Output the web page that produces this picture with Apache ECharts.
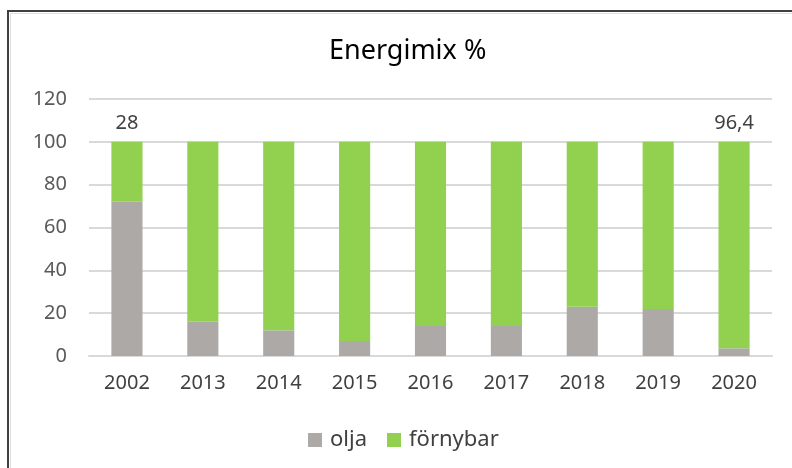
<!DOCTYPE html>
<html>
<head>
<meta charset="utf-8">
<script src="https://cdn.jsdelivr.net/npm/echarts@6/dist/echarts.min.js"></script>
<style>
  html, body { margin: 0; padding: 0; background: #fff; }
  #main { width: 792px; height: 468px; }
</style>
</head>
<body>
<div id="main"></div>
<script>
const years = ['2002', '2013', '2014', '2015', '2016', '2017', '2018', '2019', '2020'];
const olja = [72, 16, 12, 7, 14, 14, 23, 22, 3.6];
const fornybar = [28, 84, 88, 93, 86, 86, 77, 78, 96.4];
// only first and last bar carry a label
const fornybarLabels = ['28', '', '', '', '', '', '', '', '96,4'];

const font = 'Noto Sans';
const chart = echarts.init(document.getElementById('main'));

chart.setOption({
  animation: false,
  backgroundColor: '#fff',
  textStyle: { fontFamily: font },
  title: {
    text: 'Energimix %',
    left: 324,
    top: 33,
    textStyle: { fontFamily: font, fontSize: 27, fontWeight: 'normal', color: '#000' }
  },
  legend: {
    top: 424,
    left: 303,
    itemWidth: 14,
    itemHeight: 14,
    itemGap: 20,
    icon: 'rect',
    textStyle: { fontFamily: font, fontSize: 22, color: '#404040', padding: [0, 0, 0, 3] },
    data: ['olja', 'förnybar']
  },
  graphic: [{
    type: 'rect',
    shape: { x: 8, y: 11, width: 820, height: 520 },
    style: { fill: 'none', stroke: '#404040', lineWidth: 2 }
  }, {
    type: 'rect',
    shape: { x: 10.5, y: 13.5, width: 820, height: 520 },
    style: { fill: 'none', stroke: '#e0e0e0', lineWidth: 1 }
  }],
  grid: { left: 89, right: 20, top: 99, bottom: 112 },
  xAxis: {
    type: 'category',
    data: years,
    axisTick: { show: false },
    axisLine: { lineStyle: { color: '#d9d9d9', width: 2 } },
    axisLabel: { fontFamily: font, fontSize: 20, color: '#404040', margin: 17 }
  },
  yAxis: {
    type: 'value',
    min: 0,
    max: 120,
    interval: 20,
    axisLine: { show: false },
    axisTick: { show: false },
    splitLine: { lineStyle: { color: '#d9d9d9', width: 2 } },
    axisLabel: { fontFamily: font, fontSize: 20, color: '#595959', margin: 22 }
  },
  series: [{
    name: 'olja',
    type: 'bar',
    stack: 'mix',
    barWidth: '41%',
    itemStyle: { color: '#ada9a7' },
    data: olja
  }, {
    name: 'förnybar',
    type: 'bar',
    stack: 'mix',
    barWidth: '41%',
    itemStyle: { color: '#92d050' },
    label: {
      show: true,
      position: 'top',
      distance: 9,
      fontFamily: font,
      fontSize: 20,
      color: '#404040',
      formatter: p => fornybarLabels[p.dataIndex]
    },
    data: fornybar
  }]
});
</script>
</body>
</html>
